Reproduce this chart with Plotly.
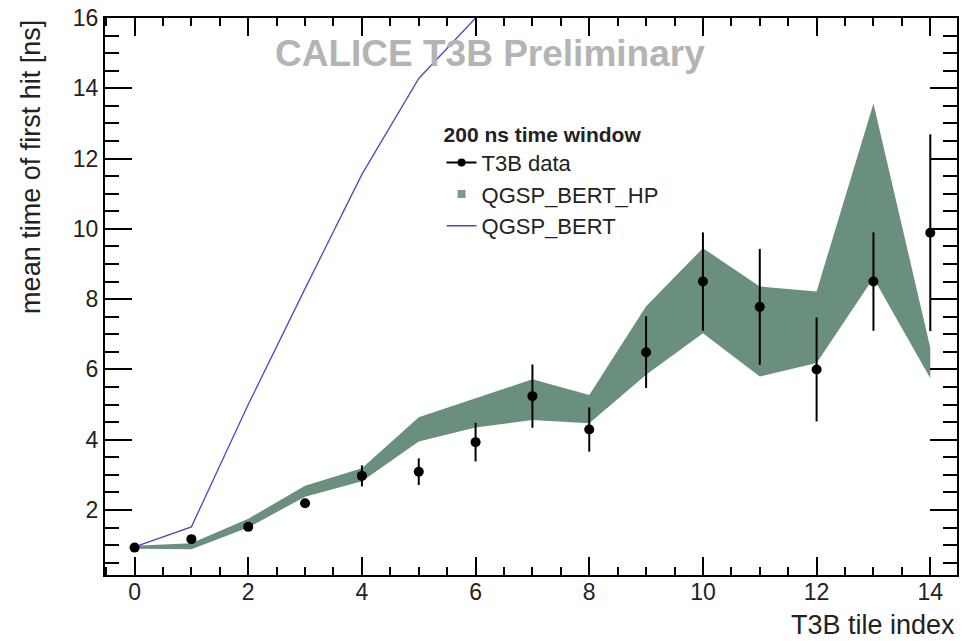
import plotly.graph_objects as go

# ---- data ----
tile_index = [0, 1, 2, 3, 4, 5, 6, 7, 8, 9, 10, 11, 12, 13, 14]
t3b_mean = [0.93, 1.17, 1.52, 2.19, 2.97, 3.09, 3.93, 5.24, 4.29, 6.49, 8.50, 7.78, 6.00, 8.50, 9.89]
t3b_err = [0.05, 0.08, 0.08, 0.08, 0.30, 0.38, 0.55, 0.90, 0.63, 1.02, 1.40, 1.65, 1.48, 1.40, 2.80]

hp_low = [0.90, 0.88, 1.50, 2.38, 2.82, 3.95, 4.35, 4.56, 4.47, 5.85, 7.03, 5.80, 6.18, 8.60, 5.75]
hp_high = [0.98, 1.05, 1.75, 2.69, 3.19, 4.64, 5.18, 5.72, 5.27, 7.80, 9.45, 8.36, 8.22, 13.57, 6.62]

bert_index = [0, 1, 2, 3, 4, 5, 6]
bert_mean = [0.95, 1.52, 5.00, 8.30, 11.55, 14.28, 16.00]

x_ticks = [0, 2, 4, 6, 8, 10, 12, 14]
y_ticks = [2, 4, 6, 8, 10, 12, 14, 16]

BAND = "#6b8f7d"
FONT = "Liberation Sans, Arial, sans-serif"

fig = go.Figure()

# QGSP_BERT_HP band
fig.add_trace(go.Scatter(x=tile_index, y=hp_low, mode="lines", line=dict(width=0, color=BAND),
                         showlegend=False, hoverinfo="skip"))
fig.add_trace(go.Scatter(x=tile_index, y=hp_high, mode="lines", line=dict(width=0, color=BAND),
                         fill="tonexty", fillcolor=BAND, showlegend=False, hoverinfo="skip"))

# QGSP_BERT line
fig.add_trace(go.Scatter(x=bert_index, y=bert_mean, mode="lines", line=dict(color="#5046c8", width=1.3),
                         showlegend=False))

# T3B data
fig.add_trace(go.Scatter(x=tile_index, y=t3b_mean, mode="markers",
                         marker=dict(color="black", size=10),
                         error_y=dict(type="data", array=t3b_err, color="black", thickness=2, width=0),
                         showlegend=False))

# legend entries
fig.add_trace(go.Scatter(x=[None], y=[None], mode="lines+markers", name="T3B data",
                         line=dict(color="black", width=2), marker=dict(color="black", size=8)))
fig.add_trace(go.Scatter(x=[None], y=[None], mode="markers", name="QGSP_BERT_HP",
                         marker=dict(color="#7f9a8d", size=8, symbol="square")))
fig.add_trace(go.Scatter(x=[None], y=[None], mode="lines", name="QGSP_BERT",
                         line=dict(color="#5046c8", width=1.5)))

axis_common = dict(showline=True, linewidth=2, linecolor="black", mirror="ticks",
                   ticks="inside", tickwidth=2, tickcolor="black", showgrid=False, zeroline=False,
                   automargin=False,
                   tickfont=dict(family=FONT, size=23, color="#222"))

fig.update_xaxes(range=[-0.52, 14.47], tickvals=x_ticks, ticklen=18, ticklabelstandoff=-5,
                 minor=dict(dtick=0.5, tick0=0, ticklen=8, tickwidth=1.5, ticks="inside", tickcolor="black"),
                 **axis_common)
fig.update_yaxes(range=[0.15, 16], tickvals=y_ticks, ticklen=27,
                 minor=dict(dtick=0.5, tick0=0, ticklen=14, tickwidth=1.5, ticks="inside", tickcolor="black"),
                 **axis_common)

fig.update_layout(
    width=972, height=641,
    margin=dict(l=105, r=15, t=18, b=66),
    paper_bgcolor="white", plot_bgcolor="white",
    font=dict(family=FONT, color="#222"),
    legend=dict(x=0.395, y=0.827, xanchor="left", yanchor="top",
                bgcolor="rgba(0,0,0,0)", font=dict(family=FONT, size=22, color="#222"),
                title=dict(text="<b>200 ns time window</b>", font=dict(family=FONT, size=21, color="#222")),
                itemwidth=30, traceorder="normal"),
    annotations=[
        dict(text="<b>CALICE T3B Preliminary</b>", x=0.452, y=0.937, xref="paper", yref="paper",
             xanchor="center", yanchor="middle",
             showarrow=False, font=dict(family=FONT, size=37, color="#b4b4b4")),
        dict(text="mean time of first hit [ns]", x=-0.087, y=1.0, xref="paper", yref="paper",
             xanchor="center", yanchor="top", textangle=-90, showarrow=False,
             font=dict(family=FONT, size=27, color="#222")),
        dict(text="T3B tile index", x=1.0, y=-0.0898, xref="paper", yref="paper",
             xanchor="right", yanchor="middle", showarrow=False,
             font=dict(family=FONT, size=27, color="#222")),
    ],
)

fig.write_html("out.html")
